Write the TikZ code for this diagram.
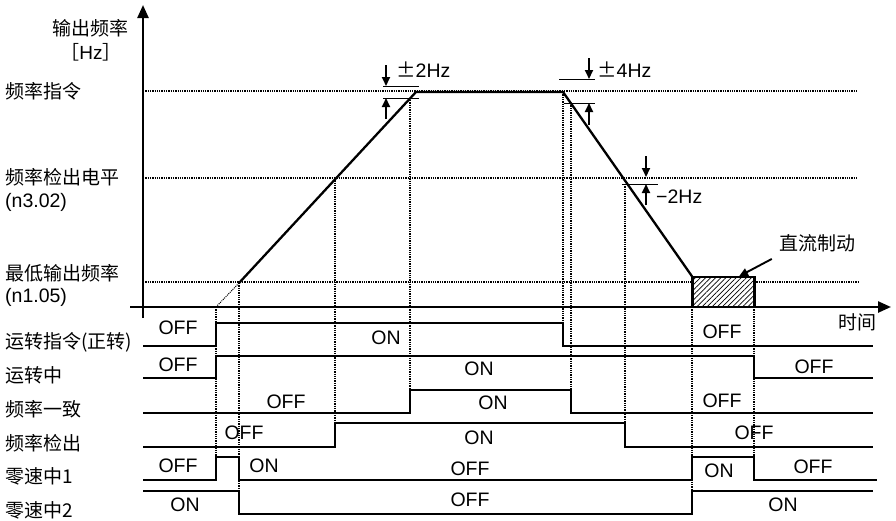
\documentclass[tikz,border=0pt]{standalone}
\usepackage{fontspec}
\setmainfont{Liberation Sans}
\newfontfamily\cjk{Noto Sans CJK SC}
\usepackage{tikz}
\usetikzlibrary{arrows.meta, patterns.meta, calc}

\begin{document}
\begin{tikzpicture}[
    x=1pt, y=-1pt,
    every node/.style={font=\fontsize{19.5}{22}\selectfont, inner sep=0pt},
    zh/.style={font=\fontsize{19}{22}\selectfont\cjk},
    side/.style={zh, anchor=west},
    axis/.style={line width=2.4pt, -{Triangle[length=13pt,width=11pt]}},
    wave/.style={line width=2.3pt},
    guide/.style={densely dotted, line width=1.3pt},
    tick/.style={line width=0.8pt},
    marker/.style={line width=1.9pt, -{Triangle[length=9pt,width=8pt]}}
]
\useasboundingbox (0,0) rectangle (896,520);

% axes
\draw[axis] (143,318) -- (143,5);
\draw[axis] (130,307) -- (891,307);

% levels
\draw[guide] (143,91) -- (858,91);
\draw[guide] (143,178) -- (858,178);
\draw[guide] (143,282) -- (692,282);
\draw[guide] (754,282) -- (858,282);

\draw[guide] (216,307) -- (216,457);
\draw[guide] (239,283) -- (239,491);
\draw[guide] (335,178) -- (335,423);
\draw[guide] (410,100) -- (410,390);
\draw[guide] (563,92) -- (563,323);
\draw[guide] (571,103) -- (571,390);
\draw[guide] (625,184) -- (625,423);
\draw[guide] (692,307) -- (692,491);
\draw[guide] (754,307) -- (754,457);

% output frequency
\node[draw, wave, pattern={Lines[angle=45,distance=3.6pt,line width=0.7pt]},
      minimum width=62pt, minimum height=30pt, anchor=south west] (dcbox) at (692,307) {};
\draw[densely dotted, line width=1pt] (216,307) -- (239,283);
\draw[wave] (239,283) -- (416,92) -- (563,92) -- (dcbox.north west);

\node[zh] (dcb) at (817,243) {直流制动};
\draw[marker] ([shift={(-7pt,-7pt)}]dcb.south west) -- ($(dcbox.north)!0.5!(dcbox.north east)$);

% tolerance marks
\draw[tick] (383,86) -- (419,86);
\draw[tick] (383,98) -- (419,98);
\draw[marker] (386,65) -- (386,86);
\draw[marker] (386,119) -- (386,98);
\node[anchor=west] (tol2) at (396,70) {{\cjk ±}2Hz};

\draw[tick] (559,79) -- (595,79);
\draw[tick] (564,103) -- (595,103);
\draw[marker] (589,58) -- (589,79);
\draw[marker] (589,125) -- (589,103);
\node[anchor=west] (tol4) at (597,70) {{\cjk ±}4Hz};

\draw[tick] (622,184) -- (658,184);
\draw[marker] (646,156) -- (646,177);
\draw[marker] (646,205) -- (646,184);
\node[anchor=west] (tolm) at (656,197) {−2Hz};

% axis labels
\node[zh] (yname) at (90,28) {输出频率};
\node[zh] (yunit) at (91,52) {［\rmfamily Hz\cjk］};
\node[zh] (tname) at (857,322) {时间};

\node[side] (fref)  at (5,91)  {频率指令};
\node[side] (fdet)  at (5,177) {频率检出电平};
\node[anchor=west] (fdetp) at (5,202) {(n3.02)};
\node[side] (fmin)  at (5,273) {最低输出频率};
\node[anchor=west] (fminp) at (5,297) {(n1.05)};

% signals
\node[side] (srun)  at (5,342) {运转指令(正转)};
\node[side] (sact)  at (5,375) {运转中};
\node[side] (sagr)  at (5,409) {频率一致};
\node[side] (sdet)  at (5,443) {频率检出};
\node[side] (szs1)  at (5,476) {零速中1};
\node[side] (szs2)  at (5,510) {零速中2};

\draw[wave] (143,346) -- (216,346) -- (216,323) -- (563,323) -- (563,346) -- (873,346);
\draw[wave] (143,378) -- (216,378) -- (216,356) -- (754,356) -- (754,378) -- (873,378);
\draw[wave] (143,413) -- (410,413) -- (410,390) -- (571,390) -- (571,413) -- (873,413);
\draw[wave] (143,447) -- (335,447) -- (335,423) -- (625,423) -- (625,447) -- (873,447);
\draw[wave] (143,480) -- (216,480) -- (216,457) -- (239,457) -- (239,480) -- (692,480)
            -- (692,457) -- (754,457) -- (754,480) -- (877,480);
\draw[wave] (143,491) -- (239,491) -- (239,514) -- (692,514) -- (692,491) -- (873,491);

\node (run1) at (178,328) {OFF};
\node (run2) at (386,338) {ON};
\node (run3) at (722,332) {OFF};
\node (act1) at (178,365) {OFF};
\node (act2) at (479,369) {ON};
\node (act3) at (814,367) {OFF};
\node (agr1) at (286,402) {OFF};
\node (agr2) at (493,403) {ON};
\node (agr3) at (722,401) {OFF};
\node (det1) at (244,433) {OFF};
\node (det2) at (479,438) {ON};
\node (det3) at (754,433) {OFF};
\node (zsa1) at (178,466) {OFF};
\node (zsa2) at (264,466) {ON};
\node (zsa3) at (470,469) {OFF};
\node (zsa4) at (719,471) {ON};
\node (zsa5) at (813,467) {OFF};
\node (zsb1) at (185,505) {ON};
\node (zsb2) at (470,500) {OFF};
\node (zsb3) at (783,505) {ON};
\end{tikzpicture}
\end{document}
